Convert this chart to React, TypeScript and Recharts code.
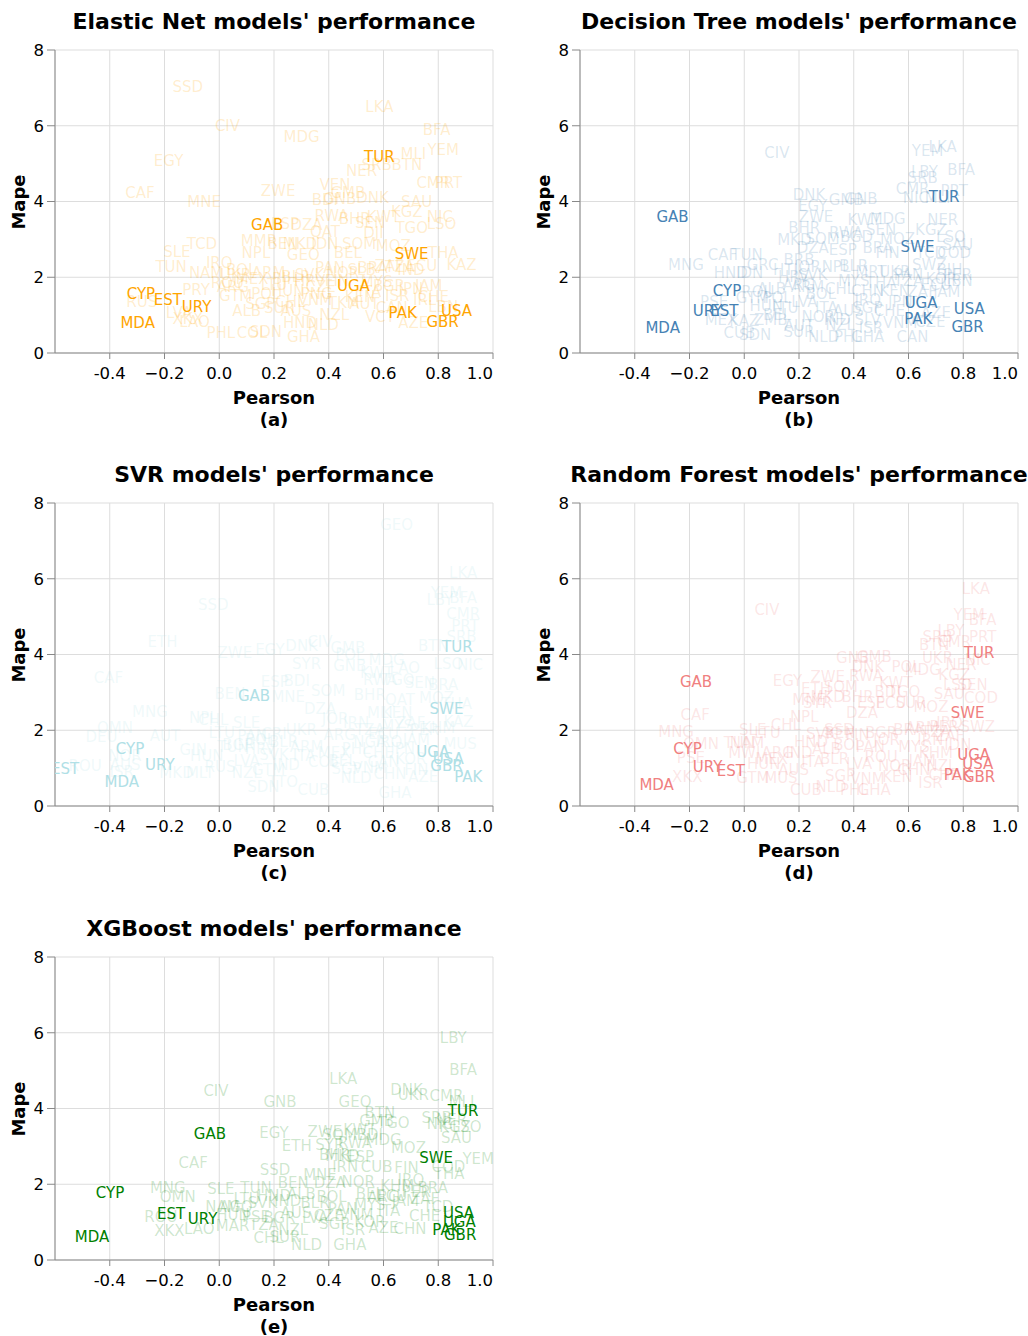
import { ScatterChart, Scatter, XAxis, YAxis, CartesianGrid } from 'recharts'

type Row = [string, number, number]

// country code, pearson, mape
const highlighted = ['CYP', 'EST', 'URY', 'MDA', 'GAB', 'TUR', 'SWE', 'UGA', 'PAK', 'USA', 'GBR']

const xTicks = [-0.4, -0.2, 0, 0.2, 0.4, 0.6, 0.8, 1.0]
const yTicks = [0, 2, 4, 6, 8]

const elasticNet: Row[] = [
  ['CYP', -0.286, 1.57], ['EST', -0.188, 1.4], ['URY', -0.083, 1.21], ['MDA', -0.298, 0.8], ['GAB', 0.175, 3.38],
  ['TUR', 0.585, 5.18], ['SWE', 0.703, 2.61], ['UGA', 0.49, 1.77], ['PAK', 0.67, 1.06], ['USA', 0.867, 1.12], ['GBR', 0.816, 0.83],
  ['SSD', -0.115, 7.03], ['CIV', 0.03, 5.99], ['EGY', -0.185, 5.07], ['CAF', -0.29, 4.23], ['MNE', -0.055, 3.98],
  ['ZWE', 0.215, 4.27], ['TCD', -0.063, 2.88], ['SLE', -0.155, 2.67], ['TUN', -0.176, 2.28], ['IRQ', 0.0, 2.38],
  ['NAM', -0.048, 2.11], ['MMR', 0.145, 2.96], ['NPL', 0.134, 2.65], ['BOL', 0.08, 2.19], ['RUS', -0.283, 1.35],
  ['LVA', -0.147, 1.06], ['XKX', -0.115, 0.9], ['PRY', -0.085, 1.66], ['PHL', 0.006, 0.52], ['COL', 0.12, 0.52],
  ['SDN', 0.17, 0.55], ['LKA', 0.585, 6.5], ['MDG', 0.301, 5.71], ['BFA', 0.794, 5.88], ['YEM', 0.818, 5.36],
  ['MLI', 0.709, 5.25], ['SRB', 0.575, 4.96], ['BTN', 0.685, 4.96], ['NER', 0.52, 4.81], ['CMR', 0.782, 4.5],
  ['PRT', 0.837, 4.5], ['VEN', 0.423, 4.43], ['GMB', 0.47, 4.23], ['BDI', 0.386, 4.04], ['GNB', 0.44, 4.06],
  ['DNK', 0.56, 4.09], ['SAU', 0.721, 3.99], ['KGZ', 0.685, 3.73], ['RWA', 0.41, 3.61], ['BHR', 0.495, 3.53],
  ['KWT', 0.6, 3.6], ['SEN', 0.551, 3.42], ['NIC', 0.806, 3.6], ['LSO', 0.812, 3.4], ['TGO', 0.703, 3.29],
  ['QAT', 0.386, 3.2], ['DJI', 0.563, 3.16], ['DZA', 0.319, 3.38], ['ESP', 0.24, 3.4], ['MKD', 0.295, 2.89],
  ['BEN', 0.233, 2.88], ['IDN', 0.386, 2.88], ['SOM', 0.511, 2.88], ['BEL', 0.47, 2.65], ['MOZ', 0.636, 2.82],
  ['THA', 0.818, 2.65], ['KAZ', 0.885, 2.32], ['GEO', 0.307, 2.59], ['PAN', 0.404, 2.24], ['SLB', 0.52, 2.19],
  ['BRA', 0.56, 2.25], ['TZA', 0.66, 2.27], ['IND', 0.7, 2.2], ['ZAF', 0.62, 2.3], ['ECU', 0.74, 2.3],
  ['MYS', 0.575, 1.88], ['BGR', 0.62, 1.78], ['JAM', 0.765, 1.77], ['CHE', 0.782, 1.47], ['PNG', 0.356, 1.57],
  ['VNM', 0.35, 1.4], ['KEN', 0.514, 1.49], ['TKM', 0.455, 1.31], ['VCT', 0.587, 0.96], ['AZE', 0.709, 0.78],
  ['LBN', 0.818, 1.21], ['NLD', 0.38, 0.74], ['HND', 0.295, 0.79], ['GHA', 0.308, 0.43], ['ARG', 0.05, 1.75],
  ['MEX', 0.12, 1.95], ['LTU', 0.2, 1.8], ['POL', 0.17, 1.55], ['HUN', 0.25, 1.65], ['GTM', 0.06, 1.5],
  ['CHL', 0.26, 1.35], ['ALB', 0.1, 1.1], ['AUS', 0.28, 1.1], ['SUR', 0.22, 1.2], ['SGP', 0.15, 1.3],
  ['ROU', 0.03, 1.85], ['BLR', 0.28, 2.0], ['UKR', 0.06, 2.05], ['ARM', 0.18, 2.1], ['BIH', 0.24, 1.95],
  ['HRV', 0.33, 1.9], ['CZE', 0.37, 1.75], ['SVK', 0.33, 2.05], ['FIN', 0.43, 1.9], ['NOR', 0.45, 2.1],
  ['ITA', 0.55, 1.6], ['ISR', 0.65, 1.5], ['JPN', 0.7, 1.7], ['CAN', 0.63, 1.2], ['AUT', 0.53, 1.3],
  ['IRL', 0.75, 1.4], ['NZL', 0.42, 1.0], ['LAO', -0.09, 0.82],
]

const decisionTree: Row[] = [
  ['GAB', -0.262, 3.6], ['CYP', -0.063, 1.64], ['URY', -0.134, 1.12], ['EST', -0.073, 1.12], ['MDA', -0.298, 0.65],
  ['TUR', 0.73, 4.12], ['SWE', 0.633, 2.79], ['UGA', 0.646, 1.33], ['PAK', 0.636, 0.89], ['USA', 0.822, 1.15], ['GBR', 0.816, 0.69],
  ['CIV', 0.119, 5.28], ['MNG', -0.213, 2.32], ['CAF', -0.08, 2.59], ['TUN', 0.01, 2.59], ['HND', -0.049, 2.1],
  ['IDN', 0.02, 2.1], ['GRC', 0.067, 2.32], ['HTI', 0.15, 2.19], ['PSE', -0.11, 1.35], ['MEX', -0.085, 0.87],
  ['CUB', -0.018, 0.52], ['SDN', 0.04, 0.48], ['ZMB', 0.097, 0.87], ['KAZ', 0.0, 0.85], ['YEM', 0.67, 5.34],
  ['LKA', 0.725, 5.44], ['LBY', 0.658, 4.78], ['BFA', 0.792, 4.83], ['SRB', 0.652, 4.63], ['CMR', 0.615, 4.34],
  ['PRT', 0.767, 4.28], ['NIC', 0.627, 4.08], ['MLI', 0.706, 4.08], ['DNK', 0.237, 4.17], ['GNB', 0.426, 4.06],
  ['GMB', 0.372, 4.04], ['EGY', 0.25, 3.87], ['ZWE', 0.262, 3.59], ['KWT', 0.438, 3.51], ['MDG', 0.524, 3.53],
  ['NER', 0.725, 3.51], ['BHR', 0.219, 3.29], ['SEN', 0.5, 3.25], ['KGZ', 0.682, 3.25], ['LSO', 0.755, 3.07],
  ['SAU', 0.78, 2.85], ['MKD', 0.183, 2.98], ['SOM', 0.286, 3.0], ['RWA', 0.372, 3.16], ['BGD', 0.41, 3.05],
  ['MOZ', 0.56, 3.02], ['DZA', 0.25, 2.76], ['ESP', 0.36, 2.72], ['BRA', 0.487, 2.76], ['FIN', 0.524, 2.63],
  ['TCD', 0.682, 2.63], ['COD', 0.767, 2.63], ['JOR', 0.231, 2.28], ['NPL', 0.335, 2.28], ['BRB', 0.2, 2.45],
  ['SWZ', 0.676, 2.32], ['MRT', 0.463, 2.14], ['PER', 0.78, 2.06], ['ARM', 0.231, 1.75], ['IRQ', 0.451, 1.4],
  ['CAN', 0.615, 0.43], ['GHA', 0.451, 0.43], ['NLD', 0.29, 0.43], ['PHL', 0.38, 0.43], ['SLV', 0.451, 0.87],
  ['IND', 0.34, 0.87], ['ISR', 0.463, 0.66], ['CZE', 0.68, 0.83], ['VNM', 0.57, 0.8], ['ARG', 0.2, 1.8],
  ['ROU', 0.05, 1.6], ['POL', 0.12, 1.45], ['HUN', 0.08, 1.25], ['LTU', 0.15, 1.2], ['LVA', 0.22, 1.35],
  ['BOL', 0.28, 1.55], ['CHL', 0.35, 1.7], ['MYS', 0.4, 1.9], ['THA', 0.5, 1.85], ['KEN', 0.55, 1.65],
  ['TZA', 0.6, 1.9], ['ECU', 0.7, 1.8], ['JAM', 0.74, 1.6], ['LBN', 0.78, 1.9], ['ITA', 0.3, 1.2],
  ['AUS', 0.38, 1.1], ['SGP', 0.45, 1.2], ['CHE', 0.53, 1.1], ['JPN', 0.57, 1.35], ['AZE', 0.7, 1.05],
  ['NOR', 0.27, 0.95], ['AUT', 0.2, 0.7], ['BEL', 0.12, 1.0], ['GTM', 0.03, 1.45], ['ALB', 0.1, 1.7],
  ['HRV', 0.18, 2.0], ['SVK', 0.25, 2.05], ['BLR', 0.4, 2.3], ['UKR', 0.55, 2.15], ['PAN', 0.6, 2.05],
  ['ZAF', 0.65, 1.6], ['CHN', 0.45, 1.65], ['NZL', 0.35, 0.75], ['SUR', 0.2, 0.55], ['KOR', 0.72, 1.95],
  ['BIH', 0.75, 2.2],
]

const svr: Row[] = [
  ['GAB', 0.127, 2.91], ['CYP', -0.326, 1.5], ['URY', -0.217, 1.08], ['EST', -0.563, 0.97], ['MDA', -0.356, 0.64],
  ['TUR', 0.87, 4.19], ['SWE', 0.83, 2.55], ['UGA', 0.78, 1.43], ['USA', 0.837, 1.25], ['GBR', 0.83, 1.06], ['PAK', 0.91, 0.76],
  ['SSD', -0.022, 5.3], ['ETH', -0.207, 4.34], ['ZWE', 0.057, 4.03], ['EGY', 0.185, 4.12], ['CAF', -0.405, 3.37],
  ['BEN', 0.039, 2.95], ['MNG', -0.253, 2.49], ['NPL', -0.058, 2.32], ['CHL', -0.022, 2.27], ['SLE', 0.1, 2.2],
  ['OMN', -0.381, 2.05], ['DEU', -0.43, 1.83], ['AUT', -0.198, 1.85], ['LTU', 0.009, 1.92], ['NOR', -0.344, 1.31],
  ['AUS', -0.344, 1.08], ['ROU', -0.49, 1.06], ['ISR', -0.356, 0.9], ['GIN', -0.095, 1.48], ['HUN', -0.046, 1.31],
  ['MKD', -0.156, 0.86], ['MLT', -0.07, 0.86], ['RUS', 0.003, 1.04], ['NZL', 0.1, 0.86], ['SDN', 0.161, 0.51],
  ['BOL', 0.149, 1.74], ['GEO', 0.648, 7.41], ['LKA', 0.891, 6.14], ['YEM', 0.83, 5.63], ['LBY', 0.806, 5.44],
  ['BFA', 0.891, 5.48], ['CMR', 0.891, 5.07], ['PRT', 0.898, 4.75], ['SRB', 0.885, 4.47], ['BTN', 0.782, 4.22],
  ['LSO', 0.837, 3.75], ['NIC', 0.916, 3.72], ['DNK', 0.301, 4.22], ['CIV', 0.368, 4.34], ['GMB', 0.47, 4.16],
  ['SYR', 0.319, 3.76], ['GNB', 0.477, 3.69], ['POL', 0.477, 3.98], ['MDG', 0.611, 3.85], ['LAO', 0.678, 3.64],
  ['KWT', 0.575, 3.52], ['BDI', 0.283, 3.31], ['ESP', 0.203, 3.28], ['RWA', 0.587, 3.32], ['TGO', 0.654, 3.32],
  ['SEN', 0.733, 3.25], ['BRA', 0.818, 3.19], ['SOM', 0.398, 3.04], ['MNE', 0.252, 2.87], ['BHR', 0.55, 2.93],
  ['QAT', 0.66, 2.8], ['MOZ', 0.794, 2.84], ['DZA', 0.368, 2.55], ['THA', 0.867, 2.7], ['JOR', 0.423, 2.31],
  ['MLI', 0.587, 2.45], ['KEN', 0.65, 2.45], ['KAZ', 0.874, 2.22], ['ARG', 0.44, 1.87], ['MUS', 0.88, 1.64],
  ['AZE', 0.745, 0.76], ['GHA', 0.642, 0.34], ['CUB', 0.344, 0.42], ['SGP', 0.465, 0.97], ['CHN', 0.624, 0.84],
  ['BLR', 0.235, 1.7], ['ARM', 0.319, 1.55], ['ITA', 0.31, 1.31], ['IND', 0.245, 1.08], ['TTO', 0.233, 0.64],
  ['IRN', 0.5, 2.2], ['TZA', 0.55, 2.0], ['ECU', 0.6, 1.9], ['MYS', 0.65, 2.1], ['ZAF', 0.7, 2.2],
  ['PER', 0.75, 2.0], ['JAM', 0.72, 1.75], ['IRQ', 0.62, 1.7], ['NGA', 0.55, 1.7], ['PHL', 0.5, 1.5],
  ['CHE', 0.58, 1.4], ['JPN', 0.67, 1.5], ['KOR', 0.7, 1.25], ['CAN', 0.6, 1.15], ['MEX', 0.42, 1.4],
  ['COL', 0.38, 1.15], ['HRV', 0.15, 1.5], ['SVK', 0.2, 1.35], ['LVA', 0.1, 1.2], ['BGR', 0.07, 1.6],
  ['GTM', 0.18, 0.95], ['UKR', 0.3, 2.0], ['VNM', 0.55, 1.0], ['NLD', 0.5, 0.75], ['FIN', 0.72, 0.95],
  ['BEL', 0.45, 1.2], ['TUN', 0.05, 1.55], ['KHM', 0.8, 2.05], ['CRI', 0.2, 1.9], ['PAN', 0.12, 1.85],
]

const randomForest: Row[] = [
  ['GAB', -0.176, 3.28], ['CYP', -0.207, 1.5], ['URY', -0.134, 1.04], ['EST', -0.049, 0.93], ['MDA', -0.32, 0.55],
  ['TUR', 0.858, 4.05], ['SWE', 0.816, 2.46], ['UGA', 0.838, 1.35], ['USA', 0.853, 1.11], ['PAK', 0.78, 0.82], ['GBR', 0.858, 0.76],
  ['CIV', 0.083, 5.17], ['EGY', 0.158, 3.31], ['CAF', -0.179, 2.4], ['MNG', -0.249, 1.96], ['OMN', -0.158, 1.65],
  ['TUN', -0.018, 1.67], ['NAM', 0.01, 1.67], ['SLE', 0.031, 2.0], ['CHL', 0.152, 2.14], ['LTU', 0.085, 1.92],
  ['PSE', -0.195, 1.26], ['XKX', -0.208, 0.77], ['HUN', 0.071, 1.11], ['MWI', 0.0, 1.4], ['ARG', 0.122, 1.4],
  ['GTM', 0.031, 0.73], ['MUS', 0.134, 0.73], ['LKA', 0.846, 5.74], ['YEM', 0.822, 5.04], ['BFA', 0.871, 4.91],
  ['LBY', 0.755, 4.63], ['PRT', 0.871, 4.47], ['SRB', 0.706, 4.45], ['BTN', 0.694, 4.25], ['CMR', 0.767, 4.34],
  ['UKR', 0.706, 3.9], ['NER', 0.792, 3.72], ['NIC', 0.853, 3.85], ['GNB', 0.396, 3.9], ['GMB', 0.475, 3.94],
  ['DNK', 0.451, 3.68], ['POL', 0.591, 3.66], ['MDG', 0.652, 3.59], ['KGZ', 0.767, 3.46], ['LSO', 0.78, 3.19],
  ['SEN', 0.834, 3.19], ['ZWE', 0.305, 3.4], ['RWA', 0.445, 3.43], ['KWT', 0.554, 3.24], ['ETH', 0.262, 3.1],
  ['SOM', 0.353, 3.15], ['BDI', 0.524, 3.02], ['TGO', 0.584, 3.02], ['SAU', 0.749, 2.97], ['MNE', 0.237, 2.8],
  ['MKD', 0.305, 2.88], ['SYR', 0.268, 2.72], ['BHR', 0.414, 2.88], ['ESP', 0.463, 2.71], ['ECU', 0.536, 2.71],
  ['SUR', 0.609, 2.71], ['MOZ', 0.682, 2.62], ['COD', 0.865, 2.84], ['DZA', 0.43, 2.45], ['NPL', 0.219, 2.36],
  ['SSD', 0.347, 2.0], ['FIN', 0.414, 1.87], ['BGR', 0.5, 1.92], ['SWZ', 0.853, 2.09], ['PER', 0.73, 2.09],
  ['HND', 0.244, 1.7], ['CUB', 0.225, 0.42], ['NLD', 0.317, 0.51], ['PHL', 0.402, 0.42], ['GHA', 0.475, 0.42],
  ['KEN', 0.56, 0.77], ['CHE', 0.73, 0.82], ['BEN', 0.35, 1.92], ['IND', 0.2, 1.4], ['BRA', 0.6, 2.0],
  ['ARM', 0.65, 2.05], ['TZA', 0.7, 1.95], ['ZAF', 0.75, 1.85], ['IRN', 0.68, 1.75], ['ALB', 0.3, 1.5],
  ['BOL', 0.38, 1.6], ['PAN', 0.46, 1.55], ['JOR', 0.52, 1.75], ['MYS', 0.62, 1.55], ['KHM', 0.7, 1.4],
  ['IDN', 0.78, 1.6], ['ITA', 0.25, 1.15], ['BLR', 0.33, 1.25], ['LVA', 0.42, 1.1], ['ROU', 0.5, 1.3],
  ['JAM', 0.65, 1.2], ['NZL', 0.72, 1.05], ['AUS', 0.18, 0.95], ['SGP', 0.35, 0.8], ['VNM', 0.45, 0.7],
  ['CHN', 0.62, 0.95], ['ISR', 0.68, 0.6], ['MEX', 0.1, 1.25], ['NOR', 0.55, 1.05], ['SVK', 0.28, 1.9],
  ['IRQ', 0.75, 2.2],
]

const xgboost: Row[] = [
  ['GAB', -0.034, 3.33], ['CYP', -0.399, 1.78], ['EST', -0.176, 1.21], ['URY', -0.061, 1.07], ['MDA', -0.465, 0.62],
  ['TUR', 0.891, 3.94], ['SWE', 0.792, 2.68], ['USA', 0.874, 1.25], ['UGA', 0.877, 1.01], ['PAK', 0.83, 0.79], ['GBR', 0.88, 0.66],
  ['CIV', -0.012, 4.47], ['CAF', -0.095, 2.55], ['MNG', -0.188, 1.89], ['OMN', -0.152, 1.67], ['SLE', 0.006, 1.87],
  ['TUN', 0.134, 1.89], ['ROU', -0.213, 1.13], ['XKX', -0.182, 0.77], ['LAO', -0.073, 0.81], ['NAM', 0.012, 1.41],
  ['AGO', 0.061, 1.41], ['MAR', 0.049, 0.9], ['PSE', 0.134, 1.14], ['SVK', 0.158, 1.5], ['TZA', 0.163, 0.92],
  ['CHL', 0.18, 0.58], ['LBY', 0.855, 5.85], ['BFA', 0.891, 5.02], ['LKA', 0.453, 4.77], ['DNK', 0.684, 4.49],
  ['UKR', 0.709, 4.36], ['CMR', 0.83, 4.33], ['MLI', 0.885, 4.18], ['GNB', 0.222, 4.18], ['GEO', 0.496, 4.18],
  ['BTN', 0.587, 3.89], ['GMB', 0.575, 3.66], ['TGO', 0.636, 3.62], ['SRB', 0.794, 3.74], ['NIC', 0.806, 3.59],
  ['KGZ', 0.861, 3.5], ['LSO', 0.904, 3.5], ['NER', 0.849, 3.7], ['SAU', 0.867, 3.21], ['EGY', 0.2, 3.35],
  ['ZWE', 0.386, 3.39], ['KWT', 0.514, 3.43], ['SOM', 0.44, 3.3], ['BDI', 0.55, 3.3], ['ETH', 0.283, 3.01],
  ['SYR', 0.404, 3.04], ['RWA', 0.496, 3.1], ['MDG', 0.6, 3.17], ['MOZ', 0.691, 2.95], ['YEM', 0.946, 2.66],
  ['BHR', 0.423, 2.77], ['ESP', 0.514, 2.73], ['IRN', 0.46, 2.46], ['CUB', 0.575, 2.46], ['FIN', 0.684, 2.42],
  ['COD', 0.837, 2.46], ['THA', 0.84, 2.27], ['SSD', 0.204, 2.38], ['MNE', 0.368, 2.24], ['DZA', 0.404, 2.02],
  ['NOR', 0.508, 2.07], ['BEN', 0.27, 2.02], ['BOL', 0.41, 1.67], ['ARG', 0.6, 1.67], ['GHA', 0.477, 0.4],
  ['NLD', 0.319, 0.4], ['CHN', 0.697, 0.81], ['ISR', 0.489, 0.79], ['MKD', 0.45, 2.75], ['HND', 0.2, 1.7],
  ['IND', 0.25, 1.55], ['ALB', 0.3, 1.75], ['BLR', 0.35, 1.5], ['PAN', 0.45, 1.35], ['MYS', 0.55, 1.45],
  ['ITA', 0.62, 1.3], ['JAM', 0.68, 1.55], ['PER', 0.72, 1.8], ['ZAF', 0.75, 1.6], ['BRA', 0.78, 1.9],
  ['KHM', 0.65, 1.95], ['TCD', 0.8, 1.4], ['IRQ', 0.7, 2.1], ['AUS', 0.28, 1.25], ['LVA', 0.35, 1.1],
  ['SGP', 0.42, 0.95], ['KOR', 0.55, 1.0], ['AZE', 0.6, 0.85], ['NZL', 0.27, 0.8], ['BGR', 0.22, 1.1],
  ['CZE', 0.4, 1.15], ['CHE', 0.75, 1.15], ['VNM', 0.5, 1.2], ['ECU', 0.63, 1.7], ['BEL', 0.55, 1.75],
  ['SUR', 0.24, 0.6], ['LTU', 0.1, 1.6], ['HUN', 0.05, 1.2],
]

const FONT = '"DejaVu Sans", sans-serif'

interface PanelProps {
  title: string
  tag: string
  color: string
  rows: Row[]
  left: number
  top: number
}

function formatTick(v: number) {
  if (Math.abs(v - -0.4) < 1e-9) return '-0.4'
  const s = Math.abs(v).toFixed(1)
  return v < 0 ? `\u2212${s}` : s
}

function XTick(props: any) {
  const { x, y, payload } = props
  const last = Math.abs(payload.value - 1) < 1e-9
  return (
    <text x={x} y={y} dy="0.71em" textAnchor={last ? 'end' : 'middle'} fontSize={16.5} fill="#000" fontFamily={FONT}>
      {formatTick(payload.value)}
    </text>
  )
}

function YTick(props: any) {
  const { x, y, payload } = props
  return (
    <text x={x} y={y} dy="0.35em" textAnchor="end" fontSize={16.5} fill="#000" fontFamily={FONT}>
      {payload.value}
    </text>
  )
}

function makeLabel(color: string, opacity: number) {
  return (p: any) => (
    <text
      x={p.cx}
      y={p.cy}
      textAnchor="middle"
      dominantBaseline="central"
      fontSize={15}
      fontFamily={FONT}
      fill={color}
      fillOpacity={opacity}
    >
      {p.payload.code}
    </text>
  )
}

function Panel({ title, tag, color, rows, left, top }: PanelProps) {
  const points = rows.map(([code, pearson, mape]) => ({ code, pearson, mape }))
  const faint = points.filter((p) => !highlighted.includes(p.code))
  const strong = points.filter((p) => highlighted.includes(p.code))
  const center = 274
  const bold = { fontFamily: FONT, fontWeight: 700, color: '#000', position: 'absolute' as const, whiteSpace: 'nowrap' as const }

  return (
    <div style={{ position: 'absolute', left, top, width: 520, height: 440 }}>
      <div style={{ ...bold, left: center, top: 21, fontSize: 22, transform: 'translate(-50%, -50%)' }}>{title}</div>
      <ScatterChart width={500} height={390} margin={{ top: 50, right: 7, bottom: 7, left: 15 }}>
        <CartesianGrid stroke="#ddd" />
        <XAxis
          type="number"
          dataKey="pearson"
          domain={[-0.6, 1.0]}
          ticks={xTicks}
          allowDataOverflow
          height={30}
          stroke="#888"
          tickSize={6}
          tickMargin={8}
          tick={<XTick />}
        />
        <YAxis
          type="number"
          dataKey="mape"
          domain={[0, 8]}
          ticks={yTicks}
          allowDataOverflow
          width={40}
          stroke="#888"
          tickSize={8}
          tickMargin={3}
          tick={<YTick />}
        />
        <Scatter data={faint} isAnimationActive={false} shape={makeLabel(color, 0.2)} />
        <Scatter data={strong} isAnimationActive={false} shape={makeLabel(color, 1)} />
      </ScatterChart>
      <div style={{ ...bold, left: 18, top: 201.5, fontSize: 18, transform: 'translate(-50%, -50%) rotate(-90deg)' }}>Mape</div>
      <div style={{ ...bold, left: center, top: 397, fontSize: 18, transform: 'translate(-50%, -50%)' }}>Pearson</div>
      <div style={{ ...bold, left: center, top: 419, fontSize: 18, transform: 'translate(-50%, -50%)' }}>{tag}</div>
    </div>
  )
}

export default function App() {
  return (
    <div style={{ position: 'absolute', left: 0, top: 0, width: 1028, height: 1336, background: '#fff' }}>
      <Panel title="Elastic Net models' performance" tag="(a)" color="#FFA500" rows={elasticNet} left={0} top={0} />
      <Panel title="Decision Tree models' performance" tag="(b)" color="#4682B4" rows={decisionTree} left={525} top={0} />
      <Panel title="SVR models' performance" tag="(c)" color="#B0E0E6" rows={svr} left={0} top={453} />
      <Panel title="Random Forest models' performance" tag="(d)" color="#F08080" rows={randomForest} left={525} top={453} />
      <Panel title="XGBoost models' performance" tag="(e)" color="#008000" rows={xgboost} left={0} top={907} />
    </div>
  )
}
